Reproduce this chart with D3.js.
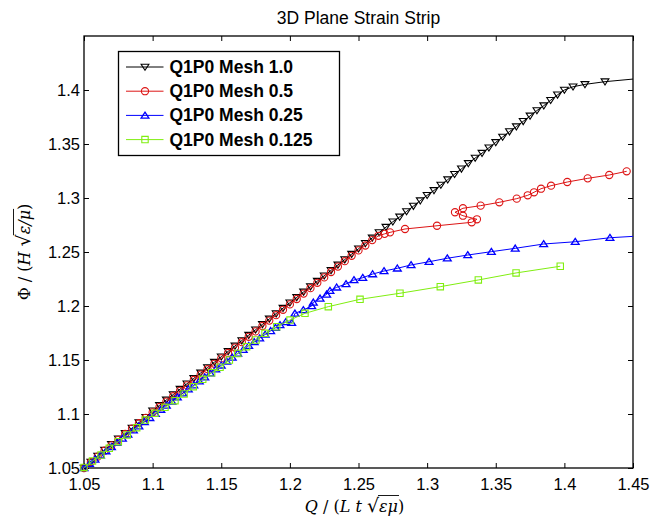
<!DOCTYPE html>
<html>
<head>
<meta charset="utf-8">
<script src="https://cdn.jsdelivr.net/npm/d3@7"></script>
<style>
  body { margin: 0; background: #fff; }
  svg { display: block; }
</style>
</head>
<body>
<div id="chart"></div>
<script>
// tick values
const xTicks = [1.05, 1.1, 1.15, 1.2, 1.25, 1.3, 1.35, 1.4, 1.45];
const yTicks = [1.05, 1.1, 1.15, 1.2, 1.25, 1.3, 1.35, 1.4];

const seriesNames = ['Q1P0 Mesh 1.0', 'Q1P0 Mesh 0.5', 'Q1P0 Mesh 0.25', 'Q1P0 Mesh 0.125'];

// [Q, Phi] pairs
const mesh10 = [
  [1.050, 1.0500], [1.055, 1.0555], [1.060, 1.0610], [1.065, 1.0665], [1.070, 1.0720],
  [1.075, 1.0770], [1.080, 1.0820], [1.085, 1.0870], [1.090, 1.0920], [1.095, 1.0970],
  [1.100, 1.1030], [1.105, 1.1080], [1.110, 1.1130], [1.115, 1.1180], [1.120, 1.1230],
  [1.125, 1.1280], [1.130, 1.1330], [1.135, 1.1380], [1.140, 1.1430], [1.145, 1.1480],
  [1.150, 1.1530], [1.155, 1.1580], [1.160, 1.1630], [1.165, 1.1680], [1.170, 1.1730],
  [1.175, 1.1780], [1.180, 1.1830], [1.185, 1.1880], [1.190, 1.1930], [1.195, 1.1980],
  [1.200, 1.2030], [1.205, 1.2080], [1.210, 1.2130], [1.215, 1.2180], [1.220, 1.2230],
  [1.225, 1.2280], [1.230, 1.2330], [1.235, 1.2380], [1.240, 1.2430], [1.245, 1.2480],
  [1.250, 1.2530], [1.255, 1.2580], [1.260, 1.2630], [1.265, 1.2680], [1.270, 1.2730],
  [1.275, 1.2780], [1.280, 1.2825], [1.285, 1.2875], [1.290, 1.2925], [1.295, 1.2975],
  [1.300, 1.3025], [1.305, 1.3070], [1.310, 1.3120], [1.315, 1.3170], [1.320, 1.3220],
  [1.325, 1.3270], [1.330, 1.3320], [1.335, 1.3370], [1.340, 1.3415], [1.345, 1.3465],
  [1.350, 1.3515], [1.355, 1.3565], [1.360, 1.3615], [1.365, 1.3660], [1.370, 1.3710],
  [1.375, 1.3760], [1.380, 1.3810], [1.385, 1.3855], [1.390, 1.3905], [1.395, 1.3955],
  [1.400, 1.4000], [1.4063, 1.4030], [1.415, 1.4052], [1.4296, 1.4077], [1.470, 1.4125]
];

const mesh05 = [
  [1.050, 1.0500], [1.055, 1.0555], [1.060, 1.0605], [1.065, 1.0660], [1.070, 1.0710],
  [1.075, 1.0760], [1.080, 1.0815], [1.085, 1.0865], [1.090, 1.0915], [1.095, 1.0965],
  [1.100, 1.1015], [1.105, 1.1065], [1.110, 1.1115], [1.115, 1.1165], [1.120, 1.1215],
  [1.125, 1.1265], [1.130, 1.1315], [1.135, 1.1365], [1.140, 1.1415], [1.145, 1.1465],
  [1.150, 1.1515], [1.155, 1.1565], [1.160, 1.1615], [1.165, 1.1665], [1.170, 1.1715],
  [1.175, 1.1765], [1.180, 1.1815], [1.185, 1.1865], [1.190, 1.1915], [1.195, 1.1965],
  [1.200, 1.2015], [1.205, 1.2065], [1.210, 1.2115], [1.215, 1.2165], [1.220, 1.2215],
  [1.225, 1.2265], [1.230, 1.2315], [1.235, 1.2365], [1.240, 1.2415], [1.245, 1.2465],
  [1.250, 1.2515], [1.255, 1.2560], [1.260, 1.2610], [1.2645, 1.2650], [1.2690, 1.2668],
  [1.2730, 1.2682], [1.2839, 1.2713], [1.3072, 1.2743], [1.3325, 1.2775], [1.3363, 1.2803],
  [1.3261, 1.2836], [1.3203, 1.2868], [1.3261, 1.2905], [1.3390, 1.2929], [1.3526, 1.2960],
  [1.3653, 1.2994], [1.3733, 1.3025], [1.3779, 1.3053], [1.3830, 1.3086], [1.3903, 1.3114],
  [1.4021, 1.3148], [1.4170, 1.3182], [1.4327, 1.3213], [1.4454, 1.3247]
];

const mesh025 = [
  [1.050, 1.0500], [1.054, 1.0540], [1.058, 1.0580], [1.062, 1.0618], [1.066, 1.0657],
  [1.070, 1.0696], [1.074, 1.0735], [1.078, 1.0773], [1.082, 1.0812], [1.086, 1.0850],
  [1.090, 1.0888], [1.094, 1.0926], [1.098, 1.0965], [1.102, 1.1003], [1.106, 1.1041],
  [1.110, 1.1079], [1.114, 1.1117], [1.118, 1.1155], [1.122, 1.1192], [1.126, 1.1229],
  [1.130, 1.1266], [1.134, 1.1304], [1.138, 1.1341], [1.142, 1.1378], [1.146, 1.1415],
  [1.150, 1.1451], [1.154, 1.1488], [1.158, 1.1524], [1.162, 1.1560], [1.166, 1.1596],
  [1.170, 1.1632], [1.174, 1.1667], [1.178, 1.1702], [1.182, 1.1737], [1.186, 1.1770],
  [1.1895, 1.1800], [1.1928, 1.1824], [1.1970, 1.1852], [1.2013, 1.1845], [1.2037, 1.1932],
  [1.2098, 1.1963], [1.2159, 1.2000], [1.2171, 1.2034], [1.2220, 1.2071], [1.2268, 1.2108],
  [1.2292, 1.2142], [1.2341, 1.2173], [1.2409, 1.2204], [1.2467, 1.2241], [1.2531, 1.2262],
  [1.2603, 1.2296], [1.2686, 1.2324], [1.2783, 1.2349], [1.2883, 1.2380], [1.3014, 1.2410],
  [1.3147, 1.2442], [1.3296, 1.2472], [1.3468, 1.2503], [1.3642, 1.2534], [1.3849, 1.2574],
  [1.4079, 1.2595], [1.4332, 1.2632], [1.4700, 1.2660]
];

const mesh0125 = [
  [1.0500, 1.0505], [1.0562, 1.0565], [1.0624, 1.0620], [1.0684, 1.0682], [1.0750, 1.0744],
  [1.0815, 1.0806], [1.0884, 1.0873], [1.0947, 1.0944], [1.1017, 1.1006], [1.1090, 1.1062],
  [1.1163, 1.1123], [1.1229, 1.1185], [1.1296, 1.1253], [1.1365, 1.1321], [1.1430, 1.1382],
  [1.1491, 1.1433], [1.1559, 1.1500], [1.1620, 1.1560], [1.1685, 1.1623], [1.1753, 1.1685],
  [1.1819, 1.1747], [1.1904, 1.1808], [1.2001, 1.1870], [1.2110, 1.1932], [1.2280, 1.1994],
  [1.2511, 1.2062], [1.2802, 1.2118], [1.3096, 1.2179], [1.3373, 1.2241], [1.3648, 1.2306],
  [1.3970, 1.2368]
];

const seriesData = [mesh10, mesh05, mesh025, mesh0125];
const seriesColors = ['#000000', '#dd1515', '#0000ff', '#80ee10'];
const seriesMarkers = ['triDown', 'circle', 'triUp', 'square'];
const markerStroke = [1.1, 1.1, 1.3, 1.1];

const width = 665, height = 518;
const margin = {top: 36, right: 32, bottom: 50, left: 84};
const cw = width - margin.left - margin.right;
const ch = height - margin.top - margin.bottom;

const svg = d3.select('#chart').append('svg').attr('width', width).attr('height', height)
  .style('font-family', 'Liberation Sans, Arial, sans-serif');

const x = d3.scaleLinear().domain([1.05, 1.45]).range([0, cw]);
const y = d3.scaleLinear().domain([1.05, 1.45]).range([ch, 0]);

const g = svg.append('g').attr('transform', `translate(${margin.left},${margin.top})`);

svg.append('defs').append('clipPath').attr('id', 'plot-clip')
  .append('rect').attr('x', -5).attr('y', -5).attr('width', cw + 5).attr('height', ch + 10);

const markerPath = (type) => {
  if (type === 'triDown') return 'M-3.9,-2.8L3.9,-2.8L0,3.3Z';
  if (type === 'triUp') return 'M0,-3.3L3.9,2.7L-3.9,2.7Z';
  if (type === 'square') return 'M-3.2,-3.2H3.2V3.2H-3.2Z';
  return d3.symbol(d3.symbolCircle, Math.PI * 3.6 * 3.6)();
};

const fmt = d => String(+d.toFixed(2));

// axes: ticks inside, box on all four sides
const tick = 5;
g.append('g').attr('class', 'x-axis').attr('transform', `translate(0,${ch})`)
  .call(d3.axisBottom(x).tickValues(xTicks).tickFormat(fmt).tickSizeInner(-tick).tickSizeOuter(0).tickPadding(10));
g.append('g').attr('class', 'x-axis-top')
  .call(d3.axisTop(x).tickValues(xTicks).tickFormat('').tickSizeInner(-tick).tickSizeOuter(0));
g.append('g').attr('class', 'y-axis')
  .call(d3.axisLeft(y).tickValues(yTicks).tickFormat(fmt).tickSizeInner(-tick).tickSizeOuter(0).tickPadding(4));
g.append('g').attr('class', 'y-axis-right').attr('transform', `translate(${cw},0)`)
  .call(d3.axisRight(y).tickValues(yTicks).tickFormat('').tickSizeInner(-tick).tickSizeOuter(0));

g.selectAll('.domain').remove();
g.selectAll('.tick line').attr('stroke', '#000').attr('stroke-width', 1);
g.selectAll('.tick text').attr('fill', '#000').style('font-size', '16.5px')
  .style('font-family', 'Liberation Sans, Arial, sans-serif');

g.append('rect').attr('x', 0).attr('y', 0).attr('width', cw).attr('height', ch)
  .attr('fill', 'none').attr('stroke', '#000').attr('stroke-width', 1.3);

// series
const line = d3.line().x(d => x(d[0])).y(d => y(d[1]));
const plot = g.append('g').attr('clip-path', 'url(#plot-clip)');

seriesData.forEach((data, i) => {
  const sg = plot.append('g').attr('class', 'series');
  sg.append('path').datum(data).attr('d', line)
    .attr('fill', 'none').attr('stroke', seriesColors[i]).attr('stroke-width', 1);
  sg.selectAll('path.marker').data(data).join('path')
    .attr('class', 'marker')
    .attr('d', markerPath(seriesMarkers[i]))
    .attr('transform', d => `translate(${x(d[0])},${y(d[1])})`)
    .attr('fill', 'none').attr('stroke', seriesColors[i]).attr('stroke-width', markerStroke[i]);
});

// legend
const legend = svg.append('g').attr('transform', 'translate(118.5,51.5)');
legend.append('rect').attr('width', 221).attr('height', 104)
  .attr('fill', '#fff').attr('stroke', '#000').attr('stroke-width', 1.3);
seriesNames.forEach((name, i) => {
  const ly = 15.5 + i * 24.2;
  const row = legend.append('g').attr('transform', `translate(0,${ly})`);
  row.append('line').attr('x1', 7.5).attr('x2', 45).attr('y1', 0).attr('y2', 0)
    .attr('stroke', seriesColors[i]).attr('stroke-width', 1);
  row.append('path').attr('d', markerPath(seriesMarkers[i]))
    .attr('transform', 'translate(26.5,0)')
    .attr('fill', 'none').attr('stroke', seriesColors[i]).attr('stroke-width', markerStroke[i]);
  row.append('text').attr('x', 51).attr('y', 6).text(name)
    .style('font-size', '17.5px').style('font-weight', 'bold').attr('fill', '#000');
});

// title
svg.append('text').attr('x', margin.left + cw / 2).attr('y', 24)
  .attr('text-anchor', 'middle').style('font-size', '17.5px').attr('fill', '#000')
  .text('3D Plane Strain Strip');

// math-style axis labels with a drawn radical bar
const mathLabel = (parent, pieces) => {
  const t = parent.append('text').attr('text-anchor', 'middle')
    .style('font-family', 'DejaVu Serif, Liberation Serif, serif').style('font-size', '16px').attr('fill', '#000');
  let idx = 0, over = null;
  pieces.forEach(p => {
    const s = t.append('tspan').text(p.t);
    if (p.i) s.style('font-style', 'italic');
    if (p.size) s.style('font-size', p.size);
    if (p.over) over = [idx, idx + p.t.length - 1];
    idx += p.t.length;
  });
  if (over) {
    const node = t.node();
    const b = node.getExtentOfChar(over[1]);
    const r = node.getExtentOfChar(over[0] - 1);
    parent.append('line')
      .attr('x1', r.x + r.width - 1).attr('x2', b.x + b.width + 1)
      .attr('y1', r.y + 1.5).attr('y2', r.y + 1.5)
      .attr('stroke', '#000').attr('stroke-width', 0.9);
  }
  return t;
};

const xl = svg.append('g').attr('transform', `translate(${margin.left + cw / 2 - 4},512)`);
mathLabel(xl, [
  {t: 'Q', i: true}, {t: ' / ('}, {t: 'L', i: true}, {t: ' t ', i: true},
  {t: '√', size: '19px'}, {t: 'εμ', i: true, over: true}, {t: ')'}
]);

const yl = svg.append('g').attr('transform', `translate(30,${margin.top + ch / 2}) rotate(-90)`);
mathLabel(yl, [
  {t: 'Φ'}, {t: ' / ('}, {t: 'H', i: true}, {t: ' '},
  {t: '√', size: '19px'}, {t: 'ε/μ', i: true, over: true}, {t: ')'}
]);
</script>
</body>
</html>
